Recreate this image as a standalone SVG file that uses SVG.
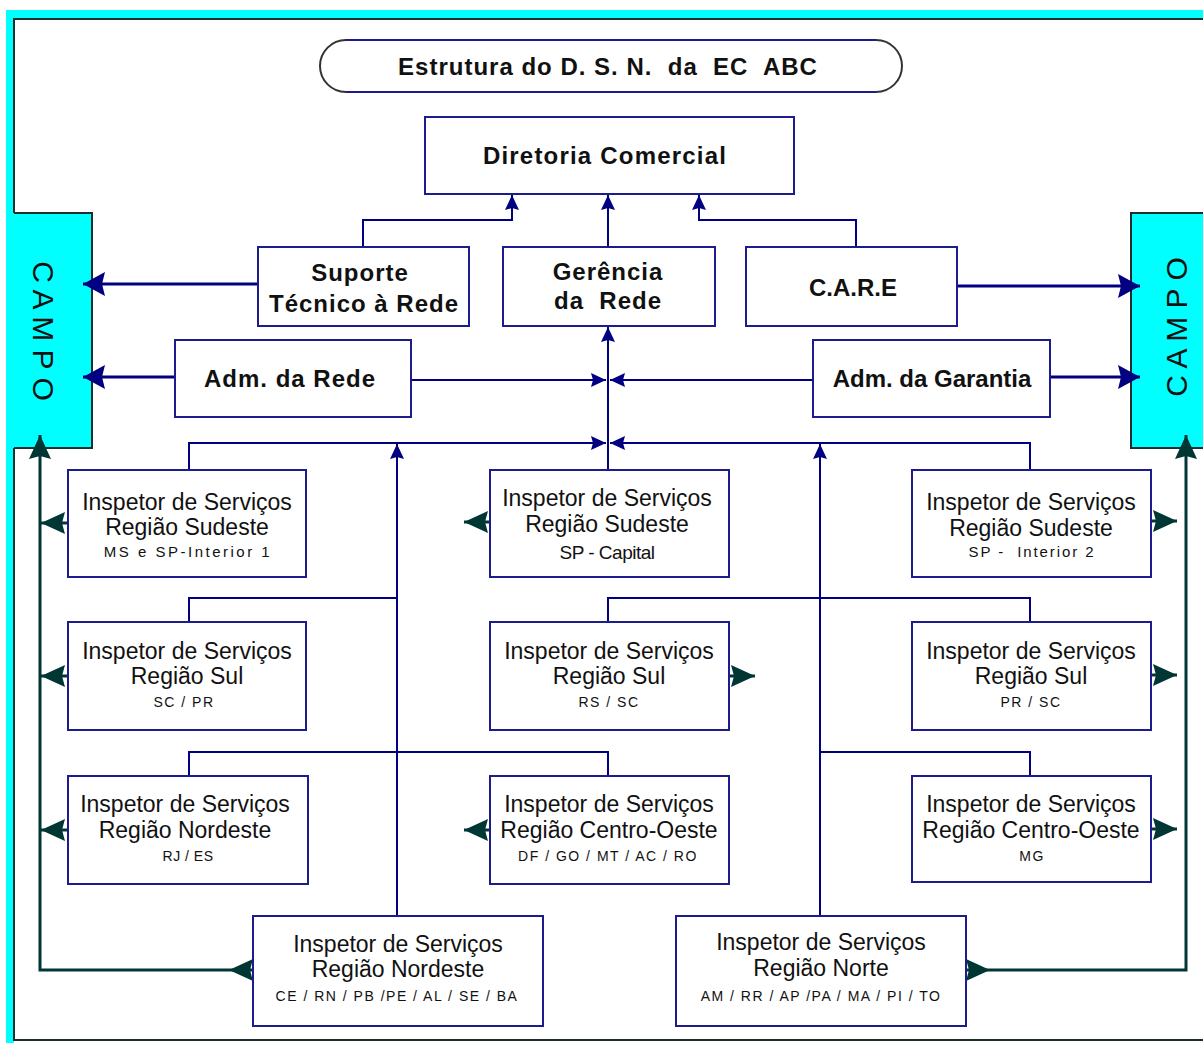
<svg xmlns="http://www.w3.org/2000/svg" width="1203" height="1043" viewBox="0 0 1203 1043">
  <style>
    .box { fill: #ffffff; stroke: #1c1c8c; stroke-width: 2; }
    .navy { fill: none; stroke: #000080; stroke-width: 2; }
    .navyThick { fill: none; stroke: #000080; stroke-width: 3; }
    .green { fill: none; stroke: #003634; stroke-width: 3; }
    .frame { fill: none; stroke: #1e2e2e; stroke-width: 2; }
    .bold { font-family: "Liberation Sans", Arial, sans-serif; font-weight: bold; font-size: 24px; letter-spacing: 1px; fill: #111111; text-anchor: middle; }
    .reg { font-family: "Liberation Sans", Arial, sans-serif; font-size: 23px; fill: #111111; text-anchor: middle; }
    .small { font-family: "Liberation Sans", Arial, sans-serif; font-size: 14px; letter-spacing: 1.5px; fill: #111111; text-anchor: middle; }
    .campo { font-family: "Liberation Sans", Arial, sans-serif; font-size: 30px; fill: #111111; text-anchor: middle; }
  </style>
  <defs>
    <marker id="navySmall" viewBox="-16 -8 17 16" refX="0" refY="0" markerWidth="17" markerHeight="16" markerUnits="userSpaceOnUse" orient="auto">
      <path d="M0,0 L-15,-7 L-13,0 L-15,7 Z" fill="#000080"/>
    </marker>
    <marker id="navyBig" viewBox="-24 -13 25 26" refX="0" refY="0" markerWidth="25" markerHeight="26" markerUnits="userSpaceOnUse" orient="auto">
      <path d="M0,0 L-22,-12 L-19,0 L-22,12 Z" fill="#000080"/>
    </marker>
    <marker id="greenHead" viewBox="-26 -13 27 26" refX="0" refY="0" markerWidth="27" markerHeight="26" markerUnits="userSpaceOnUse" orient="auto">
      <path d="M0,0 L-24,-11 L-21,0 L-24,11 Z" fill="#003634"/>
    </marker>
  </defs>

  <!-- page background and outer frame -->
  <rect x="0" y="0" width="1203" height="1043" fill="#ffffff"/>
  <rect x="6" y="10" width="1197" height="9" fill="#00ffff"/>
  <rect x="6" y="10" width="8" height="1033" fill="#00ffff"/>
  <path class="frame" d="M1203,19 H14 V213 H92 V448 H14 V1040 H1203"/>

  <!-- field blocks on both sides -->
  <g id="campo-left">
    <rect x="6" y="213" width="86" height="235" fill="#00ffff"/>
    <path class="frame" d="M14,213 H92 V448 H14"/>
    <text class="campo" transform="translate(33,331) rotate(90)">C A M P O</text>
  </g>
  <g id="campo-right">
    <rect x="1131" y="213" width="72" height="235" fill="#00ffff"/>
    <path class="frame" d="M1203,213 H1131 V448 H1203"/>
    <text class="campo" transform="translate(1187,327) rotate(-90)">C A M P O</text>
  </g>

  <!-- connectors -->
  <g id="connectors">
    <!-- to Diretoria Comercial -->
    <path class="navy" d="M363,247 V220 H512 V195" marker-end="url(#navySmall)"/>
    <path class="navy" d="M608,247 V195" marker-end="url(#navySmall)"/>
    <path class="navy" d="M856,247 V220 H699 V195" marker-end="url(#navySmall)"/>
    <!-- to the field blocks -->
    <path class="navyThick" d="M258,284 H83" marker-end="url(#navyBig)"/>
    <path class="navyThick" d="M175,377 H83" marker-end="url(#navyBig)"/>
    <path class="navyThick" d="M957,286 H1140" marker-end="url(#navyBig)"/>
    <path class="navyThick" d="M1050,377 H1140" marker-end="url(#navyBig)"/>
    <!-- central trunk to Gerência da Rede -->
    <path class="navy" d="M411,380 H606" marker-end="url(#navySmall)"/>
    <path class="navy" d="M813,380 H610" marker-end="url(#navySmall)"/>
    <path class="navy" d="M608,470 V327" marker-end="url(#navySmall)"/>
    <path class="navy" d="M189,470 V443 H606" marker-end="url(#navySmall)"/>
    <path class="navy" d="M1030,470 V443 H610" marker-end="url(#navySmall)"/>
    <path class="navy" d="M397,916 V444" marker-end="url(#navySmall)"/>
    <path class="navy" d="M820,916 V444" marker-end="url(#navySmall)"/>
    <!-- inspector branches -->
    <path class="navy" d="M189,622 V598 H397"/>
    <path class="navy" d="M608,622 V598 H1030 V622"/>
    <path class="navy" d="M189,776 V752 H608 V776"/>
    <path class="navy" d="M1030,776 V752 H820"/>
    <!-- field return lines -->
    <path class="green" d="M229,970 H40 V435" marker-end="url(#greenHead)"/>
    <path class="green" d="M990,970 H1186 V435" marker-end="url(#greenHead)"/>
    <path class="green" d="M253,970 H229" marker-end="url(#greenHead)"/>
    <path class="green" d="M966,970 H990" marker-end="url(#greenHead)"/>
    <path class="green" d="M68,523 H41" marker-end="url(#greenHead)"/>
    <path class="green" d="M68,676 H41" marker-end="url(#greenHead)"/>
    <path class="green" d="M68,830 H41" marker-end="url(#greenHead)"/>
    <path class="green" d="M1151,521 H1177" marker-end="url(#greenHead)"/>
    <path class="green" d="M1151,675 H1177" marker-end="url(#greenHead)"/>
    <path class="green" d="M1151,829 H1177" marker-end="url(#greenHead)"/>
    <path class="green" d="M490,522 H464" marker-end="url(#greenHead)"/>
    <path class="green" d="M729,676 H755" marker-end="url(#greenHead)"/>
    <path class="green" d="M490,830 H464" marker-end="url(#greenHead)"/>
  </g>

  <!-- title -->
  <g id="title">
    <path d="M346,40 H876 M346,92 H876" fill="none" stroke="#1c1c8c" stroke-width="2"/>
    <path d="M346,40 A26,26 0 0 0 346,92 M876,40 A26,26 0 0 1 876,92" fill="none" stroke="#333333" stroke-width="2"/>
    <text class="bold" x="608" y="75">Estrutura do D. S. N.&#160; da&#160; EC&#160; ABC</text>
  </g>

  <g id="diretoria">
    <rect class="box" x="425" y="117" width="369" height="77"/>
    <text class="bold" x="605" y="164" style="letter-spacing:1.2px">Diretoria Comercial</text>
  </g>
  <g id="suporte">
    <rect class="box" x="258" y="247" width="211" height="79"/>
    <text class="bold" x="360" y="281">Suporte</text>
    <text class="bold" x="364" y="312">Técnico à Rede</text>
  </g>
  <g id="gerencia">
    <rect class="box" x="503" y="247" width="212" height="79"/>
    <text class="bold" x="608" y="280">Gerência</text>
    <text class="bold" x="608" y="309">da&#160; Rede</text>
  </g>
  <g id="care">
    <rect class="box" x="746" y="247" width="211" height="79"/>
    <text class="bold" x="853" y="296" style="letter-spacing:0">C.A.R.E</text>
  </g>
  <g id="adm-rede">
    <rect class="box" x="175" y="340" width="236" height="77"/>
    <text class="bold" x="290" y="387">Adm. da Rede</text>
  </g>
  <g id="adm-garantia">
    <rect class="box" x="813" y="340" width="237" height="77"/>
    <text class="bold" x="932" y="387" style="letter-spacing:0">Adm. da Garantia</text>
  </g>

  <!-- inspectors, first row -->
  <g id="insp-sudeste-ms">
    <rect class="box" x="68" y="470" width="238" height="107"/>
    <text class="reg" x="187" y="510">Inspetor de Serviços</text>
    <text class="reg" x="187" y="535">Região Sudeste</text>
    <text class="small" x="188" y="557" style="font-size:15px;letter-spacing:2.5px">MS e SP-Interior 1</text>
  </g>
  <g id="insp-sudeste-capital">
    <rect class="box" x="490" y="470" width="239" height="107"/>
    <text class="reg" x="607" y="506">Inspetor de Serviços</text>
    <text class="reg" x="607" y="532">Região Sudeste</text>
    <text class="reg" x="607" y="559" style="font-size:19px;letter-spacing:-0.5px">SP - Capital</text>
  </g>
  <g id="insp-sudeste-int2">
    <rect class="box" x="912" y="470" width="239" height="107"/>
    <text class="reg" x="1031" y="510">Inspetor de Serviços</text>
    <text class="reg" x="1031" y="536">Região Sudeste</text>
    <text class="small" x="1032" y="557" style="font-size:15px;letter-spacing:1.9px">SP -&#160; Interior 2</text>
  </g>

  <!-- second row -->
  <g id="insp-sul-scpr">
    <rect class="box" x="68" y="622" width="238" height="108"/>
    <text class="reg" x="187" y="659">Inspetor de Serviços</text>
    <text class="reg" x="187" y="684">Região Sul</text>
    <text class="small" x="184" y="707">SC / PR</text>
  </g>
  <g id="insp-sul-rssc">
    <rect class="box" x="490" y="622" width="239" height="108"/>
    <text class="reg" x="609" y="659">Inspetor de Serviços</text>
    <text class="reg" x="609" y="684">Região Sul</text>
    <text class="small" x="609" y="707">RS / SC</text>
  </g>
  <g id="insp-sul-prsc">
    <rect class="box" x="912" y="622" width="239" height="108"/>
    <text class="reg" x="1031" y="659">Inspetor de Serviços</text>
    <text class="reg" x="1031" y="684">Região Sul</text>
    <text class="small" x="1031" y="707">PR / SC</text>
  </g>

  <!-- third row -->
  <g id="insp-nordeste-rjes">
    <rect class="box" x="68" y="776" width="240" height="108"/>
    <text class="reg" x="185" y="812">Inspetor de Serviços</text>
    <text class="reg" x="185" y="838">Região Nordeste</text>
    <text class="small" x="188" y="861" style="letter-spacing:0.5px">RJ / ES</text>
  </g>
  <g id="insp-centro-oeste">
    <rect class="box" x="490" y="776" width="239" height="108"/>
    <text class="reg" x="609" y="812">Inspetor de Serviços</text>
    <text class="reg" x="609" y="838">Região Centro-Oeste</text>
    <text class="small" x="608" y="861">DF / GO / MT / AC / RO</text>
  </g>
  <g id="insp-centro-oeste-mg">
    <rect class="box" x="912" y="776" width="239" height="106"/>
    <text class="reg" x="1031" y="812">Inspetor de Serviços</text>
    <text class="reg" x="1031" y="838">Região Centro-Oeste</text>
    <text class="small" x="1032" y="861">MG</text>
  </g>

  <!-- bottom row -->
  <g id="insp-nordeste">
    <rect class="box" x="253" y="916" width="290" height="110"/>
    <text class="reg" x="398" y="952">Inspetor de Serviços</text>
    <text class="reg" x="398" y="977">Região Nordeste</text>
    <text class="small" x="397" y="1001">CE / RN / PB /PE / AL / SE / BA</text>
  </g>
  <g id="insp-norte">
    <rect class="box" x="676" y="916" width="290" height="110"/>
    <text class="reg" x="821" y="950">Inspetor de Serviços</text>
    <text class="reg" x="821" y="976">Região Norte</text>
    <text class="small" x="821" y="1001">AM / RR / AP /PA / MA / PI / TO</text>
  </g>
</svg>
